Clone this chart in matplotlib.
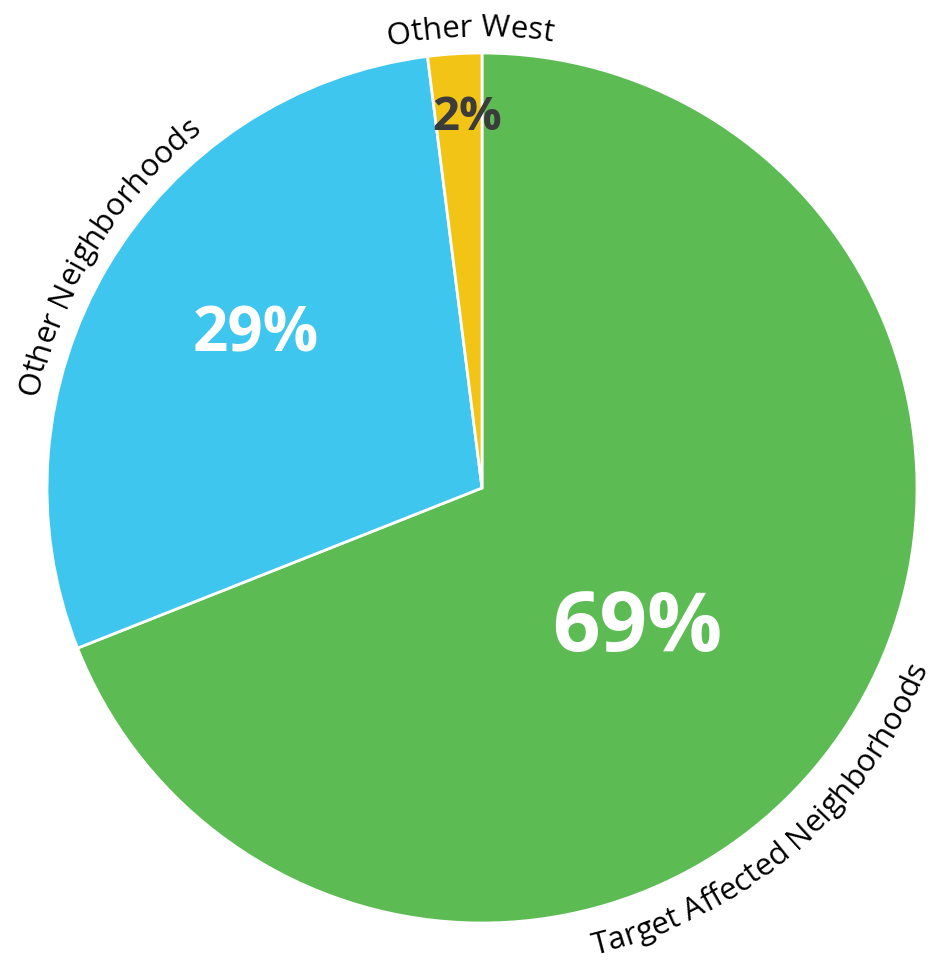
import numpy as np
import matplotlib
matplotlib.use("Agg")
import matplotlib.pyplot as plt
from matplotlib.font_manager import FontProperties, findfont, get_font

# Share of total by area
categories = ["Target Affected Neighborhoods", "Other Neighborhoods", "Other West"]
shares = [69, 29, 2]
colors = ["#5cbb52", "#3ec6ef", "#f1c415"]
pct_colors = ["white", "white", "#3b3b3b"]
pct_sizes = [60, 44.5, 34]

FONT = "Open Sans"
W, H, DPI = 932, 961, 100
CX, CY, R = 482, 473, 435

fig = plt.figure(figsize=(W / DPI, H / DPI), dpi=DPI)
ax = fig.add_axes([0, 0, 1, 1])

wedges, _ = ax.pie(shares, colors=colors, startangle=90, counterclock=False,
                   center=(CX, CY), radius=R,
                   wedgeprops=dict(edgecolor="white", linewidth=2))
ax.set_xlim(0, W)
ax.set_ylim(0, H)
ax.set_aspect("equal")
ax.set_axis_off()

# percentage labels: (angle in degrees, distance from centre in px)
pct_pos = [(-42.5, 210), (146.0, 273), (92.3, 371)]
for val, (ang, dist), c, s in zip(shares, pct_pos, pct_colors, pct_sizes):
    t = np.radians(ang)
    ax.text(CX + dist * np.cos(t), CY + dist * np.sin(t), f"{val}%",
            ha="center", va="center", color=c, fontsize=s,
            fontweight="bold", family=FONT)


def curved_text(text, mid_deg, r, size, upper=True):
    """Lay text along a circle around the pie, one glyph at a time."""
    fp = FontProperties(family=FONT, size=size)
    font = get_font(findfont(fp))
    font.set_size(size, DPI)
    adv = [font.load_char(ord(ch)).linearHoriAdvance / 65536 for ch in text]
    total = sum(adv)
    sign = -1 if upper else 1
    start = np.radians(mid_deg) - sign * total / r / 2
    pos = 0.0
    for ch, a in zip(text, adv):
        th = start + sign * (pos + a / 2) / r
        rot = np.degrees(th) - 90 if upper else np.degrees(th) + 90
        ax.text(CX + r * np.cos(th), CY + r * np.sin(th), ch,
                fontproperties=fp, color="black", ha="center", va="baseline",
                rotation=rot, rotation_mode="anchor")
        pos += a


curved_text(categories[0], -49.2, 480, 22.5, upper=False)
curved_text(categories[1], 148.3, 454, 22.5, upper=True)
curved_text(categories[2], 91.5, 452, 22.5, upper=True)

fig.savefig("out.png", dpi=DPI)
